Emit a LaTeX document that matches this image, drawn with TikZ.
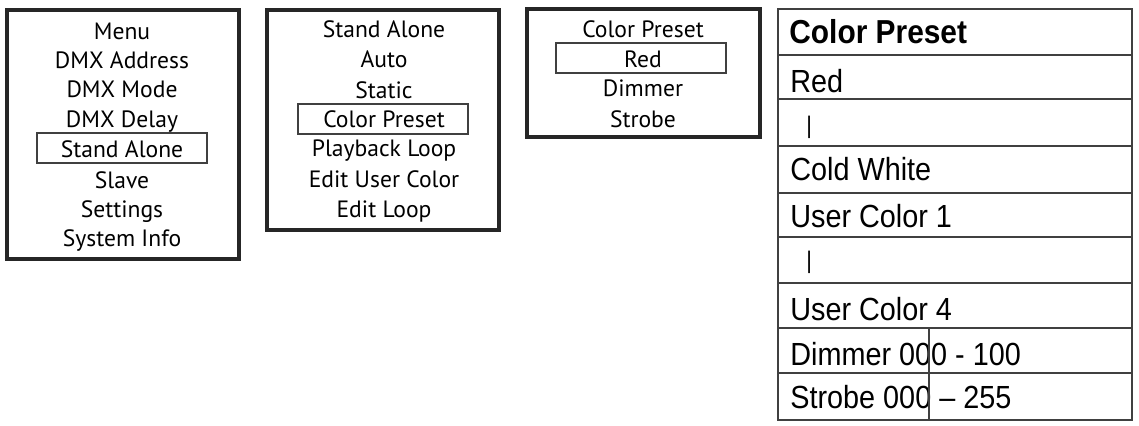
\documentclass[tikz,border=0pt]{standalone}
\usepackage{fontspec}
\setmainfont{PT Sans}
\newfontfamily\tabfont[FakeStretch=0.9,Ligatures=TeX]{Liberation Sans}
\usepackage{tikz}

\begin{document}
\begin{tikzpicture}[x=0.5pt,y=-0.5pt,
  menubox/.style={line width=1.6pt,draw=black!85},
  selbox/.style={line width=0.9pt,draw=black!75},
  item/.style={anchor=base,inner sep=0pt,font=\fontsize{11.8}{13}\selectfont},
  cell/.style={line width=1pt,draw=black!75},
  entry/.style={anchor=base west,inner sep=0pt,font=\tabfont\fontsize{16}{18}\selectfont},
  bar/.style={anchor=base west,inner sep=0pt,font=\tabfont\fontsize{12}{14}\selectfont}]
\useasboundingbox (0,0) rectangle (1139,425);
% main menu
\draw[menubox] (7,10) rectangle (239,259);
\draw[selbox] (37,133) rectangle (207,163);
\node[item] (mMenu) at (122,39) {Menu};
\node[item] (mAddr) at (122,68) {DMX Address};
\node[item] (mMode) at (122,97) {DMX Mode};
\node[item] (mDelay) at (122,127) {DMX Delay};
\node[item] (mStand) at (122,157) {Stand Alone};
\node[item] (mSlave) at (122,188) {Slave};
\node[item] (mSet) at (122,217) {Settings};
\node[item] (mInfo) at (122,246) {System Info};
% stand alone menu
\draw[menubox] (267,10) rectangle (499,230);
\draw[selbox] (298,104) rectangle (468,134);
\node[item] (sStand) at (384,37) {Stand Alone};
\node[item] (sAuto) at (384,67) {Auto};
\node[item] (sStatic) at (384,98) {Static};
\node[item] (sPreset) at (384,127) {Color Preset};
\node[item] (sPlay) at (384,156) {Playback Loop};
\node[item] (sUser) at (384,187) {Edit User Color};
\node[item] (sLoop) at (384,217) {Edit Loop};
% color preset menu
\draw[menubox] (527,9) rectangle (760,137);
\draw[selbox] (556,43) rectangle (726,73);
\node[item] (pPreset) at (643,37) {Color Preset};
\node[item] (pRed) at (643,67) {Red};
\node[item] (pDim) at (643,96) {Dimmer};
\node[item] (pStrobe) at (643,127) {Strobe};
% value table
\draw[cell] (778,9) rectangle (1132,420);
\draw[cell] (778,55) -- (1132,55);
\draw[cell] (778,99) -- (1132,99);
\draw[cell] (778,146) -- (1132,146);
\draw[cell] (778,193) -- (1132,193);
\draw[cell] (778,237) -- (1132,237);
\draw[cell] (778,283) -- (1132,283);
\draw[cell] (778,328) -- (1132,328);
\draw[cell] (778,373) -- (1132,373);
\node[entry,font=\tabfont\bfseries\fontsize{16.6}{18}\selectfont] (tHead) at (789,43) {Color Preset};
\node[entry] (tRed) at (790,92) {Red};
\node[bar] (tBarA) at (806,133) {|};
\node[entry] (tCold) at (790,180) {Cold White};
\node[entry] (tUserA) at (790,227) {User Color 1};
\node[bar] (tBarB) at (806,268) {|};
\node[entry] (tUserD) at (790,320) {User Color 4};
\node[entry] (tDim) at (790,365) {Dimmer 000 - 100};
\node[entry] (tStrobe) at (790,408) {Strobe 000 -- 255};
\draw[cell] (929,328) -- (929,420);
\end{tikzpicture}
\end{document}
